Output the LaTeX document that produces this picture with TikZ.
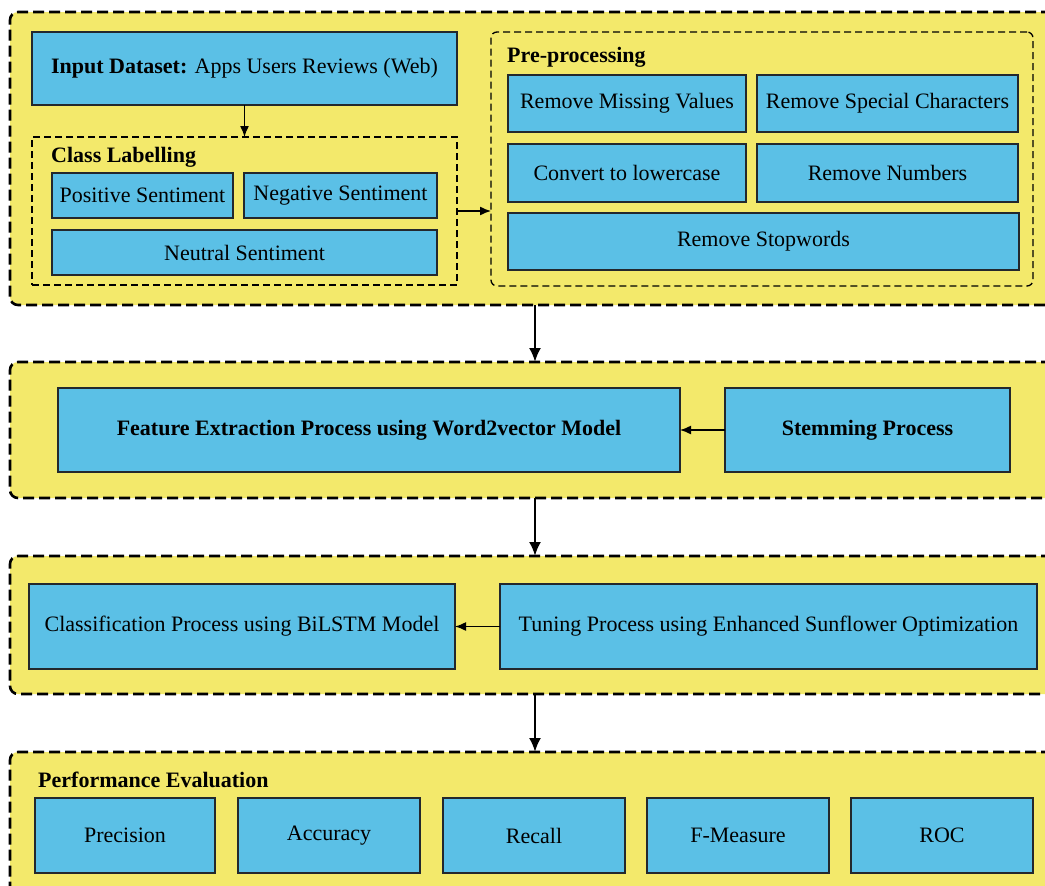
\documentclass[tikz,border=0pt]{standalone}
\usepackage{fontspec}
\setmainfont{Liberation Serif}
\usetikzlibrary{arrows.meta,positioning}
\definecolor{yel}{RGB}{243,233,107}
\definecolor{blu}{RGB}{91,192,230}
\definecolor{edge}{RGB}{35,40,45}
\tikzset{
  outerbox/.style={draw=black, fill=yel, line width=2.6pt, dash pattern=on 11pt off 5pt, rounded corners=8pt, inner sep=0pt, outer sep=0pt, anchor=north west},
  groupbox/.style={draw=black, line width=1.3pt, dash pattern=on 7pt off 4pt, inner sep=0pt, outer sep=0pt, anchor=north west},
  bluebox/.style={draw=edge, fill=blu, line width=1.4pt, inner sep=0pt, outer sep=0pt, anchor=north west, font=\fontsize{22}{26}\selectfont, align=center},
  titletext/.style={anchor=west, inner sep=0pt, font=\fontsize{22}{26}\selectfont\bfseries},
  conn/.style={draw=black, line width=1.4pt, -{Latex[length=11pt,width=9pt]}},
  bigconn/.style={draw=black, line width=2.2pt, -{Latex[length=14pt,width=12pt]}},
}
\begin{document}
\begin{tikzpicture}[x=1pt,y=-1pt]
\clip (0,0) rectangle (1045,886);
\fill[white] (0,0) rectangle (1045,886);
% outer groups
\node[outerbox, minimum width=1050pt, minimum height=293pt] (g1) at (10,12) {};
\node[outerbox, minimum width=1050pt, minimum height=136pt] (g2) at (10,362) {};
\node[outerbox, minimum width=1050pt, minimum height=138pt] (g3) at (10,556) {};
\node[outerbox, minimum width=1050pt, minimum height=160pt] (g4) at (10,752) {};
% group 1
\node[bluebox, minimum width=425pt, minimum height=73pt] (in) at (32,32) {\textbf{Input Dataset:} Apps Users Reviews (Web)};
\node[groupbox, minimum width=425pt, minimum height=148pt] (cl) at (32,137) {};
\node[titletext] (clt) at (51,157) {Class Labelling};
\node[bluebox, minimum width=181pt, minimum height=45pt] (pos) at (52,173) {Positive Sentiment};
\node[bluebox, minimum width=193pt, minimum height=45pt] (neg) at (244,173) {Negative Sentiment};
\node[bluebox, minimum width=385pt, minimum height=45pt] (neu) at (52,230) {Neutral Sentiment};
\node[groupbox, rounded corners=6pt, minimum width=542pt, minimum height=254pt] (pp) at (491,32) {};
\node[titletext] (ppt) at (507,57) {Pre-processing};
\node[bluebox, minimum width=238pt, minimum height=57pt] (rmv) at (508,75) {Remove Missing Values};
\node[bluebox, minimum width=261pt, minimum height=57pt] (rsc) at (757,75) {Remove Special Characters};
\node[bluebox, minimum width=238pt, minimum height=58pt] (low) at (508,144) {Convert to lowercase};
\node[bluebox, minimum width=261pt, minimum height=58pt] (num) at (757,144) {Remove Numbers};
\node[bluebox, minimum width=511pt, minimum height=57pt] (stp) at (508,213) {Remove Stopwords};
% group 2
\node[bluebox, minimum width=622pt, minimum height=84pt, font=\fontsize{22}{26}\selectfont\bfseries] (fe) at (58,388) {Feature Extraction Process using Word2vector Model};
\node[bluebox, minimum width=285pt, minimum height=84pt, font=\fontsize{22}{26}\selectfont\bfseries] (st) at (725,388) {Stemming Process};
% group 3
\node[bluebox, minimum width=426pt, minimum height=85pt] (cls) at (29,584) {Classification Process using BiLSTM Model};
\node[bluebox, minimum width=537pt, minimum height=85pt] (tun) at (500,584) {Tuning Process using Enhanced Sunflower Optimization};
% group 4
\node[titletext] (pet) at (38,780) {Performance Evaluation};
\node[bluebox, minimum width=180pt, minimum height=75pt] (pre) at (35,798) {Precision};
\node[bluebox, minimum width=182pt, minimum height=75pt] (acc) at (238,798) {Accuracy};
\node[bluebox, minimum width=182pt, minimum height=75pt] (rec) at (443,798) {Recall};
\node[bluebox, minimum width=182pt, minimum height=75pt] (fm) at (647,798) {F-Measure};
\node[bluebox, minimum width=182pt, minimum height=75pt] (roc) at (851,798) {ROC};
% connectors
\draw[conn] (in.south) -- (cl.north);
\draw[conn] (cl.east) -- (cl.east -| pp.west);
\draw[conn] (st.west) -- (fe.east);
\draw[conn] (tun.west) -- (cls.east);
\draw[bigconn] (g1.south) -- (g2.north);
\draw[bigconn] (g2.south) -- (g3.north);
\draw[bigconn] (g3.south) -- (g4.north);
\end{tikzpicture}
\end{document}
